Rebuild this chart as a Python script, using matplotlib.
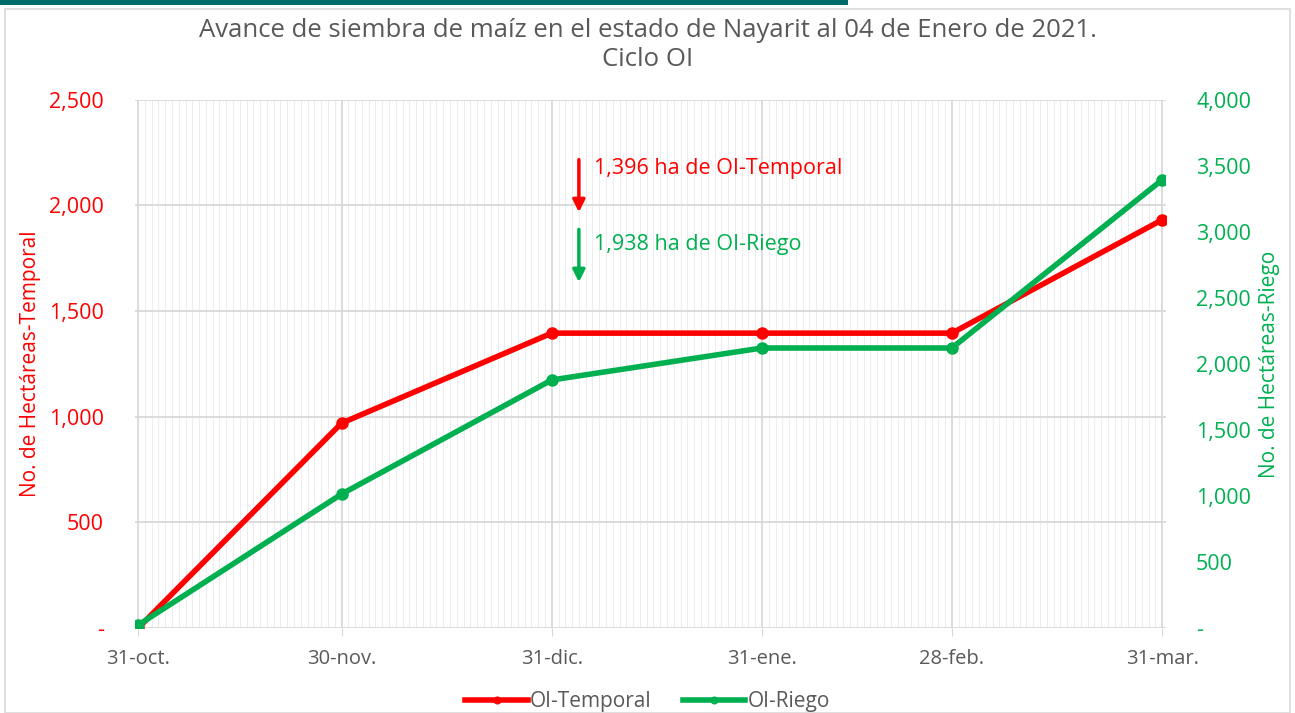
import numpy as np
import matplotlib.pyplot as plt
import matplotlib.dates as mdates
from matplotlib.patches import Rectangle
from matplotlib.ticker import FuncFormatter

# datos #
fechas = np.array(['2020-10-31', '2020-11-30', '2020-12-31', '2021-01-31',
                   '2021-02-28', '2021-03-31'], dtype='datetime64[D]')
etiquetas_x = ['31-oct.', '30-nov.', '31-dic.', '31-ene.', '28-feb.', '31-mar.']
temporal = [0, 970, 1396, 1396, 1396, 1932]
riego = [23, 1015, 1879, 2121, 2121, 3394]

fecha_corte = np.datetime64('2021-01-04')
texto_temporal = '1,396 ha de OI-Temporal'
texto_riego = '1,938 ha de OI-Riego'

rojo = '#FF0000'
verde = '#00B050'
gris = '#595959'
plt.rcParams['font.family'] = ['Open Sans', 'DejaVu Sans']


def miles(v, pos):
    if v == 0:
        return '-'
    return f'{v:,.0f}'


fig = plt.figure(figsize=(12.95, 7.13), dpi=100)
# marco y barra superior #
fig.patches.append(Rectangle((0.004, 0.0), 0.992, 0.988, transform=fig.transFigure,
                             fill=False, edgecolor='#D9D9D9', linewidth=1.2))
fig.patches.append(Rectangle((0.0, 0.993), 0.655, 0.007, transform=fig.transFigure,
                             color='#006B6B', linewidth=0))

ax = fig.add_axes([0.104, 0.119, 0.796, 0.741])
ax2 = ax.twinx()

x = mdates.date2num(fechas.astype('O'))
ax.plot(x, temporal, color=rojo, linewidth=4, marker='o', markersize=8,
        label='OI-Temporal', zorder=4)
ax2.plot(x, riego, color=verde, linewidth=4, marker='o', markersize=8,
         label='OI-Riego', zorder=4)

ax.set_xlim(x[0] - 0.5, x[-1] + 0.5)
ax.set_ylim(0, 2500)
ax2.set_ylim(0, 4000)
ax.set_yticks(np.arange(0, 2501, 500))
ax2.set_yticks(np.arange(0, 4001, 500))
ax.yaxis.set_major_formatter(FuncFormatter(miles))
ax2.yaxis.set_major_formatter(FuncFormatter(miles))

ax.set_xticks(x)
ax.set_xticklabels(etiquetas_x)
ax.xaxis.set_minor_locator(mdates.DayLocator())

# rejilla #
ax.grid(which='major', axis='both', color='#D9D9D9', linewidth=1.3)
ax.grid(which='minor', axis='x', color='#EDEDED', linewidth=0.8)
ax.set_axisbelow(True)

for a in (ax, ax2):
    for s in a.spines.values():
        s.set_visible(False)
ax.tick_params(axis='x', which='major', length=6, color='#D9D9D9', labelcolor=gris,
               labelsize=14.5, pad=9)
ax.tick_params(axis='x', which='minor', length=0)
ax.tick_params(axis='y', length=0, labelcolor=rojo, labelsize=15.5, pad=22)
ax2.tick_params(axis='y', length=0, labelcolor=verde, labelsize=15.5, pad=22)

ax.set_ylabel('No. de Hectáreas-Temporal', color=rojo, fontsize=15, labelpad=6)
ax2.set_ylabel('No. de Hectáreas-Riego', color=verde, fontsize=15, labelpad=6)

fig.suptitle('Avance de siembra de maíz en el estado de Nayarit al 04 de Enero de 2021.\nCiclo OI',
             color=gris, fontsize=18.5, y=0.975, linespacing=1.2)

# flechas de la fecha de corte #
xc = mdates.date2num(fecha_corte.astype('O'))
ax.annotate('', xy=(xc, 1955), xytext=(xc, 2230),
            arrowprops=dict(arrowstyle='-|>', color=rojo, lw=2.5, mutation_scale=18))
ax.annotate('', xy=(xc, 1624), xytext=(xc, 1900),
            arrowprops=dict(arrowstyle='-|>', color=verde, lw=2.5, mutation_scale=18))
ax.text(xc + 2.2, 2175, texto_temporal, color=rojo, fontsize=15.5, va='center')
ax.text(xc + 2.2, 1815, texto_riego, color=verde, fontsize=15.5, va='center')

h1, l1 = ax.get_legend_handles_labels()
h2, l2 = ax2.get_legend_handles_labels()
fig.legend(h1 + h2, l1 + l2, loc='lower center', bbox_to_anchor=(0.5, -0.025), ncol=2,
           frameon=False, fontsize=15, labelcolor=gris, handlelength=3.0,
           handletextpad=0.1, columnspacing=1.5, markerscale=0.6)

fig.savefig('out.png', dpi=100)
